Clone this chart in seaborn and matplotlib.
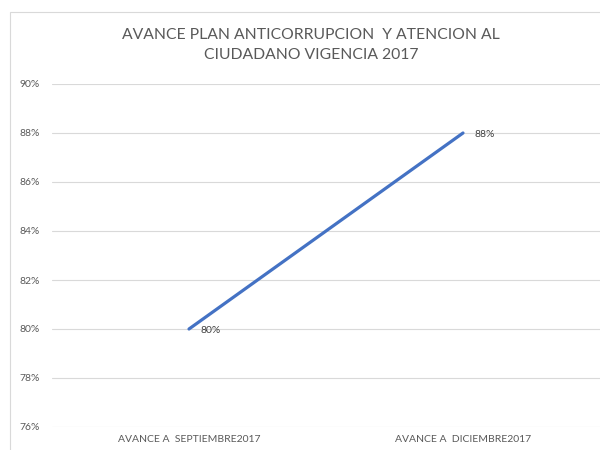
import matplotlib
matplotlib.use("Agg")
import matplotlib.pyplot as plt
import seaborn as sns
import pandas as pd
from matplotlib.ticker import FuncFormatter, FixedLocator
from matplotlib.patches import Rectangle

categories = ["AVANCE A  SEPTIEMBRE2017", "AVANCE A  DICIEMBRE2017"]
values = [0.80, 0.88]
value_labels = ["80%", "88%"]
yticks = [0.76, 0.78, 0.80, 0.82, 0.84, 0.86, 0.88, 0.90]
title = "AVANCE PLAN ANTICORRUPCION  Y ATENCION AL\nCIUDADANO VIGENCIA 2017"

sns.set_theme(style="white")
plt.rcParams['font.family'] = ['Lato', 'DejaVu Sans']

df = pd.DataFrame({"cat": categories, "val": values, "x": range(len(categories))})

fig = plt.figure(figsize=(6, 4.5), dpi=100)
fig.patch.set_facecolor("white")
fig.patches.append(Rectangle((10/600, -0.1), 1.2, 1 - 12/450 + 0.1, transform=fig.transFigure,
                             fill=False, edgecolor="#d9d9d9", linewidth=0.8))
ax = fig.add_axes([52/600, 1 - 427/450, 548/600, (427 - 84)/450])
ax.set_facecolor("none")

sns.lineplot(data=df, x="x", y="val", ax=ax, color="#4472C4", linewidth=2.3)

ax.set_xlim(-0.5, 1.5)
ax.set_ylim(0.76, 0.90)
ax.yaxis.set_major_locator(FixedLocator(yticks))
ax.yaxis.set_major_formatter(FuncFormatter(lambda v, p: f"{v*100:.0f}%"))
ax.set_xticks(df["x"])
ax.set_xticklabels(categories)
ax.grid(axis="y", color="#d9d9d9", linewidth=0.8)
ax.set_axisbelow(True)
for s in ax.spines.values():
    s.set_visible(False)
ax.tick_params(axis="both", length=0, labelsize=7.5, colors="#595959")
ax.tick_params(axis="y", pad=9)
ax.tick_params(axis="x", pad=6)
ax.set_xlabel("")
ax.set_ylabel("")

for xi, v, lab in zip(df["x"], values, value_labels):
    ax.annotate(lab, (xi, v), xytext=(8, -1), textcoords="offset points",
                ha="left", va="center", fontsize=7.5, color="#404040")

fig.text(311/600, 1 - 45/450, title, ha="center", va="center", fontsize=11.3,
         color="#595959", linespacing=1.55)

fig.savefig("out.png", dpi=100)
